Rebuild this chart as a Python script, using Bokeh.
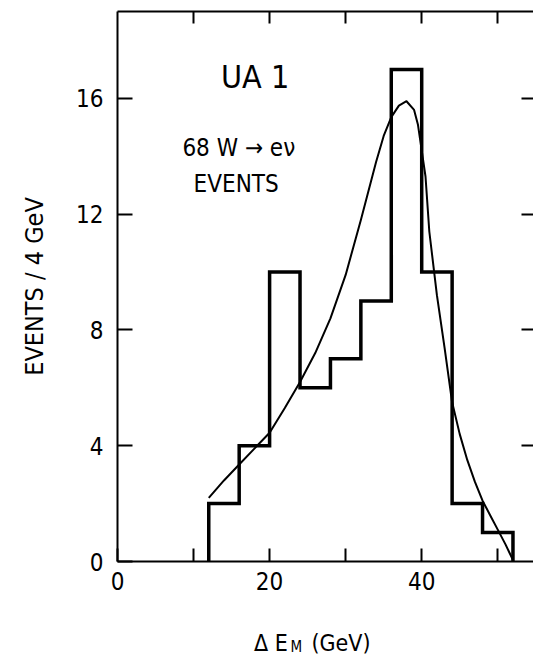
from bokeh.plotting import figure
from bokeh.layouts import column
from bokeh.models import LinearAxis, FixedTicker, Label, CustomJSTickFormatter, Range1d
from bokeh.embed import file_html
from bokeh.resources import INLINE

# ---- data ----
bin_edges = [12, 16, 20, 24, 28, 32, 36, 40, 44, 48, 52]
bin_counts = [2, 4, 10, 6, 7, 9, 17, 10, 2, 1]

fit_x = [12, 14, 16, 18, 20, 22, 24, 26, 28, 30, 32, 34, 35, 36, 37, 38, 39, 39.5,
         40, 40.5, 41, 42, 43, 44, 45, 46, 47, 48, 49, 50, 51, 52]
fit_y = [2.2, 2.8, 3.35, 3.9, 4.45, 5.3, 6.2, 7.2, 8.4, 9.9, 11.8, 13.8, 14.7, 15.35,
         15.75, 15.9, 15.6, 15.1, 14.2, 13.3, 11.4, 9.2, 7.4, 5.5, 4.4, 3.5, 2.75, 2.1,
         1.6, 1.1, 0.6, 0.05]

x_major_ticks = [0, 20, 40]
x_minor_ticks = [10, 30, 50]
top_ticks = [10, 20, 30, 40, 50]
y_ticks = [0, 4, 8, 12, 16]
right_ticks = [4, 8, 12, 16]

FONT = "DejaVu Sans Condensed"

xr = Range1d(0, 54.7)
p = figure(width=533, height=600, output_backend="svg", toolbar_location=None,
           x_range=xr, y_range=Range1d(0, 19),
           min_border_left=117, min_border_right=0, min_border_top=11,
           min_border_bottom=39, x_axis_location=None, y_axis_location=None)
p.outline_line_color = None
p.xgrid.grid_line_color = None
p.ygrid.grid_line_color = None
p.background_fill_color = "white"
p.border_fill_color = "white"

blank = CustomJSTickFormatter(code="return ''")

def style(ax, tick_in):
    ax.axis_line_color = "black"
    ax.axis_line_width = 2
    ax.major_tick_line_color = "black"
    ax.major_tick_line_width = 2
    ax.major_tick_in = tick_in
    ax.major_tick_out = 0
    ax.minor_tick_line_color = "black"
    ax.minor_tick_line_width = 2
    ax.minor_tick_in = tick_in
    ax.minor_tick_out = 0
    ax.major_label_text_font = FONT
    ax.major_label_text_font_size = "24px"
    ax.major_label_text_color = "black"

bottom = LinearAxis(ticker=FixedTicker(ticks=x_major_ticks, minor_ticks=x_minor_ticks))
style(bottom, 13)
bottom.major_label_standoff = 10
p.add_layout(bottom, "below")

top = LinearAxis(ticker=FixedTicker(ticks=top_ticks), formatter=blank)
style(top, 12)
top.major_label_standoff = 0
top.major_label_text_font_size = "1px"
p.add_layout(top, "above")

left = LinearAxis(ticker=FixedTicker(ticks=y_ticks), axis_label="EVENTS / 4 GeV")
style(left, 15)
left.major_label_standoff = 14
left.axis_label_text_font = FONT
left.axis_label_text_font_size = "25px"
left.axis_label_text_font_style = "normal"
left.axis_label_text_color = "black"
left.axis_label_standoff = 24
p.add_layout(left, "left")

right = LinearAxis(ticker=FixedTicker(ticks=right_ticks), formatter=blank)
style(right, 12)
right.axis_line_color = None
right.major_label_standoff = 0
right.major_label_text_font_size = "1px"
p.add_layout(right, "right")

# histogram outline
hx = [bin_edges[0]]
hy = [0]
for i, c in enumerate(bin_counts):
    hx += [bin_edges[i], bin_edges[i + 1]]
    hy += [c, c]
hx.append(bin_edges[-1])
hy.append(0)
p.line(hx, hy, line_color="black", line_width=3.5, line_join="miter")

# fitted curve
p.line(fit_x, fit_y, line_color="black", line_width=2, line_join="round")

def lab(fig, x, y, text, size, align="center", baseline="middle"):
    fig.add_layout(Label(x=x, y=y, text=text, text_font=FONT, text_font_size=size,
                         text_color="black", text_align=align, text_baseline=baseline))

lab(p, 18.1, 16.75, "UA 1", "32px")
lab(p, 15.95, 14.3, "68 W \u2192 e\u03bd", "24px")
lab(p, 15.6, 13.05, "EVENTS", "24px")

# x-axis title strip (with subscript M)
p2 = figure(width=533, height=56, output_backend="svg", toolbar_location=None,
            x_range=xr, y_range=Range1d(0, 56),
            min_border_left=117, min_border_right=0, min_border_top=0,
            min_border_bottom=0, x_axis_location=None, y_axis_location=None)
p2.outline_line_color = None
p2.xgrid.grid_line_color = None
p2.ygrid.grid_line_color = None
p2.border_fill_color = "white"

lab(p2, 22.4, 14, "\u0394 E", "23px", align="right")
lab(p2, 22.75, 9.5, "M", "15px", align="left")
lab(p2, 25.5, 14, "(GeV)", "23px", align="left")

layout = column(p, p2, spacing=0)
open("out.html", "w").write(file_html(layout, INLINE))
